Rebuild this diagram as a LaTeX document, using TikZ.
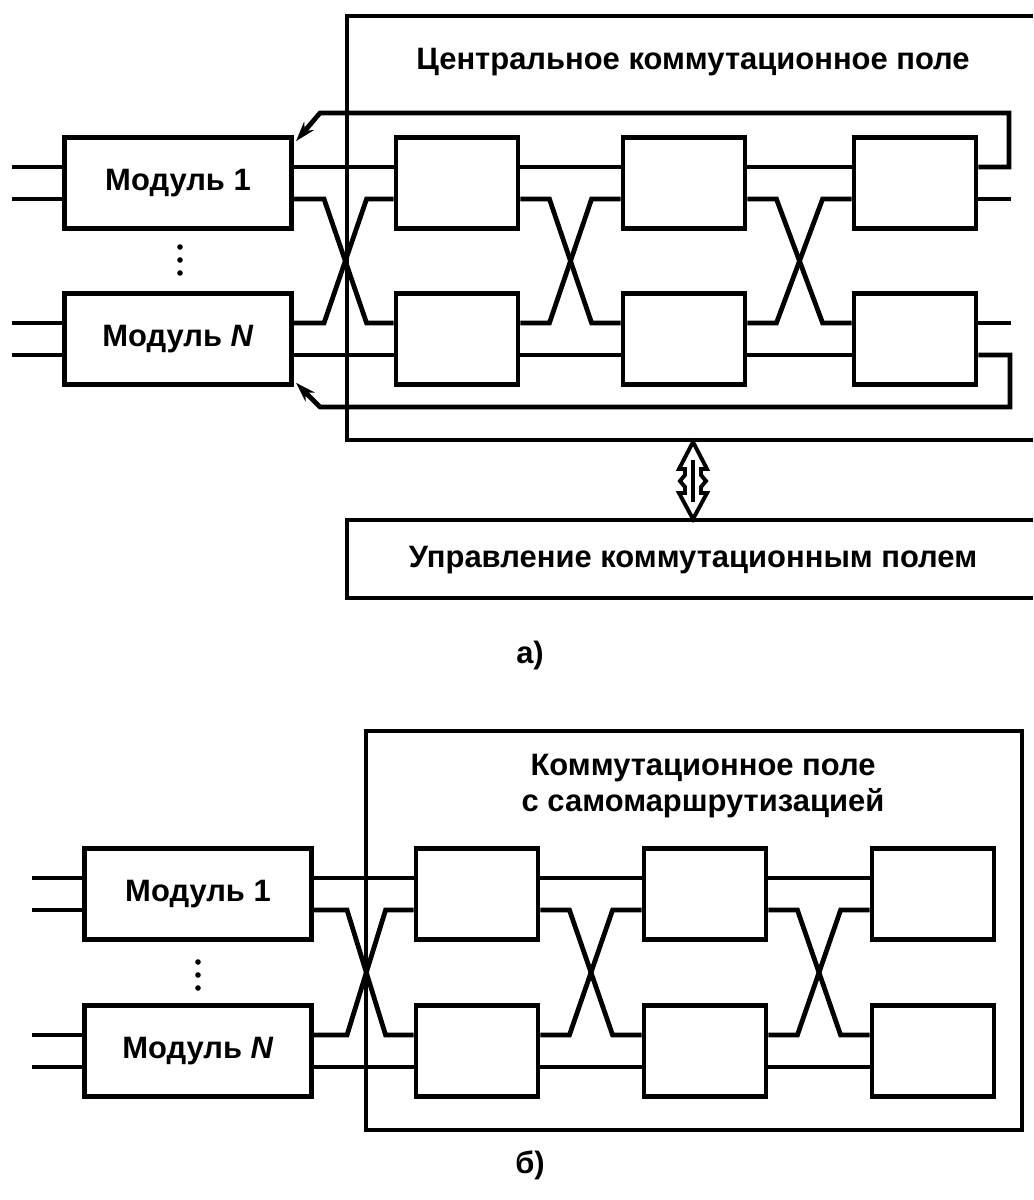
\documentclass[tikz,border=0pt]{standalone}
\usepackage{fontspec}
\setmainfont{Liberation Sans}
\usetikzlibrary{arrows.meta,calc}

\begin{document}
\begin{tikzpicture}[x=0.025cm,y=-0.025cm,line width=3.4pt,
  font=\fontsize{22}{25}\selectfont\bfseries,
  mod/.style={draw,minimum width=5.68cm,minimum height=2.27cm,inner sep=0pt},
  stg/.style={draw,minimum width=3.05cm,minimum height=2.28cm,inner sep=0pt},
  fb/.style={-{Stealth[length=5mm,width=3.2mm]}}]
\useasboundingbox (0,0) rectangle (1033,1200);

% ---- a) central switching field
\draw (1033,16) -| (347,440) -- (1033,440);
\node (tfa) at (693,62) {Центральное коммутационное поле};
\node[mod] (m1) at (178,183) {Модуль 1};
\node[mod] (mN) at (178,339) {Модуль \textit{N}};
\foreach \y in {247,260,273} \fill (180,\y) circle (2.8);
\foreach \i/\x in {1/457,2/684,3/915}{
  \node[stg] (t\i) at (\x,183) {};
  \node[stg] (b\i) at (\x,339) {};
}
\foreach \n in {m1,mN}{
  \draw ($(\n.west)+(0,-16)$) -- ++(-50,0);
  \draw ($(\n.west)+(0,16)$) -- ++(-50,0);
}
\draw ($(m1.east)+(0,-16)$) -- ($(t1.west)+(0,-16)$);
\draw ($(mN.east)+(0,16)$) -- ($(b1.west)+(0,16)$);
\draw ($(m1.east)+(0,16)$) -- ++(30,0) -- ($(b1.west)+(-27,-16)$) -- ($(b1.west)+(0,-16)$);
\draw ($(mN.east)+(0,-16)$) -- ++(30,0) -- ($(t1.west)+(-27,16)$) -- ($(t1.west)+(0,16)$);
\foreach \i/\j in {1/2,2/3}{
  \draw ($(t\i.east)+(0,-16)$) -- ($(t\j.west)+(0,-16)$);
  \draw ($(b\i.east)+(0,16)$) -- ($(b\j.west)+(0,16)$);
  \draw ($(t\i.east)+(0,16)$) -- ++(29,0) -- ($(b\j.west)+(-29,-16)$) -- ($(b\j.west)+(0,-16)$);
  \draw ($(b\i.east)+(0,-16)$) -- ++(29,0) -- ($(t\j.west)+(-29,16)$) -- ($(t\j.west)+(0,16)$);
}
% outputs and feedback
\draw ($(t3.east)+(0,16)$) -- ++(33,0);
\draw ($(b3.east)+(0,-16)$) -- ++(33,0);
\coordinate (fbtr) at (1009,113);
\coordinate (fbtl) at (320,113);
\coordinate (fbbr) at (1010,407);
\coordinate (fbbl) at (320,407);
\draw[fb] ($(t3.east)+(0,-16)$) -| (fbtr) -- (fbtl) -- ($(m1.north east)+(2,6)$);
\draw[fb] ($(b3.east)+(0,16)$) -| (fbbr) -- (fbbl) -- ($(mN.south east)+(2,-4)$);

% control of the field
\draw (1033,520) -| (347,598) -- (1033,598);
\node (ctl) at (693,560) {Управление коммутационным полем};
\coordinate (fbot) at (693,440);
\begin{scope}[shift={(fbot)},line width=2.8pt]
  \draw[fill=white] (0,2) -- (14,29) -- (8,29) -- (8,35) -- (13,41) -- (8,47) -- (8,53)
    -- (14,53) -- (0,79) -- (-14,53) -- (-8,53) -- (-8,47) -- (-13,41) -- (-8,35)
    -- (-8,29) -- (-14,29) -- cycle;
  \draw (0,20) -- (0,62);
\end{scope}
\node (la) at (530,655) {а)};

% ---- b) self-routing field
\draw (366,731) rectangle (1022,1130);
\node[align=center] (tfb) at (703,786) {Коммутационное поле\\с самомаршрутизацией};
\node[mod] (p1) at (198,894) {Модуль 1};
\node[mod] (pN) at (198,1051) {Модуль \textit{N}};
\foreach \y in {962,975,988} \fill (198,\y) circle (2.8);
\foreach \i/\x in {1/477,2/705,3/933}{
  \node[stg] (u\i) at (\x,894) {};
  \node[stg] (v\i) at (\x,1051) {};
}
\foreach \n in {p1,pN}{
  \draw ($(\n.west)+(0,-16)$) -- ++(-50,0);
  \draw ($(\n.west)+(0,16)$) -- ++(-50,0);
}
\draw ($(p1.east)+(0,-16)$) -- ($(u1.west)+(0,-16)$);
\draw ($(pN.east)+(0,16)$) -- ($(v1.west)+(0,16)$);
\draw ($(p1.east)+(0,16)$) -- ++(33,0) -- ($(v1.west)+(-28,-16)$) -- ($(v1.west)+(0,-16)$);
\draw ($(pN.east)+(0,-16)$) -- ++(33,0) -- ($(u1.west)+(-28,16)$) -- ($(u1.west)+(0,16)$);
\foreach \i/\j in {1/2,2/3}{
  \draw ($(u\i.east)+(0,-16)$) -- ($(u\j.west)+(0,-16)$);
  \draw ($(v\i.east)+(0,16)$) -- ($(v\j.west)+(0,16)$);
  \draw ($(u\i.east)+(0,16)$) -- ++(29,0) -- ($(v\j.west)+(-29,-16)$) -- ($(v\j.west)+(0,-16)$);
  \draw ($(v\i.east)+(0,-16)$) -- ++(29,0) -- ($(u\j.west)+(-29,16)$) -- ($(u\j.west)+(0,16)$);
}
\node (lb) at (530,1165) {б)};
\end{tikzpicture}
\end{document}
